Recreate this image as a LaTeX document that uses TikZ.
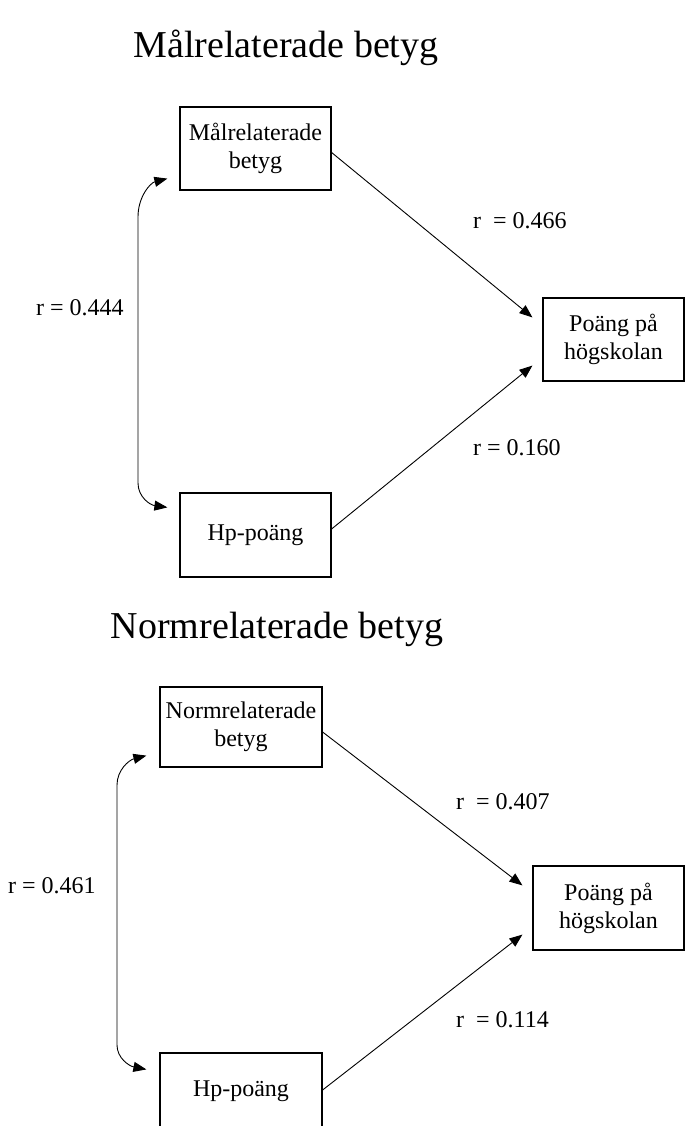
\documentclass[tikz,border=0pt]{standalone}
\usepackage{fontspec}
\setmainfont{Liberation Serif}
\usetikzlibrary{arrows.meta}
\begin{document}
\begin{tikzpicture}[x=1pt,y=-1pt,
  box/.style={draw=black,line width=1.2pt,inner sep=0pt,align=center,
    font=\fontsize{24}{28}\selectfont},
  lab/.style={inner sep=0pt,anchor=base west,font=\fontsize{24}{28}\selectfont},
  ttl/.style={inner sep=0pt,anchor=base,font=\fontsize{38}{44}\selectfont},
  arr/.style={line width=0.9pt,-{Triangle[length=13pt,width=10pt]}},
  dbl/.style={line width=0.9pt,{Triangle[length=13pt,width=10pt]}-{Triangle[length=13pt,width=10pt]}}]
\useasboundingbox (0,0) rectangle (685,1126);
\fill[white] (0,0) rectangle (685,1126);
% ---------- top ----------
\node[ttl] (t1) at (286,58) {Målrelaterade betyg};
\node[box,minimum width=151pt,minimum height=83pt] (b1) at (255.5,148.5) {Målrelaterade\\betyg};
\node[box,minimum width=151pt,minimum height=84pt] (h1) at (255.5,535) {Hp-poäng};
\node[box,minimum width=141pt,minimum height=83pt] (p1) at (613.5,339.5) {Poäng på\\högskolan};
\coordinate (a1) at ([shift={(-10,20)}]p1.north west);
\coordinate (a2) at ([shift={(-10,-16)}]p1.south west);
\draw[arr] ([shift={(0,4)}]b1.east) -- (a1);
\draw[arr] ([shift={(0,-6)}]h1.east) -- (a2);
\coordinate (c1) at ([shift={(-12,-12)}]b1.south west);
\coordinate (c2) at ([shift={(-12,15)}]h1.north west);
\draw[dbl] (c1) .. controls (150,183) and (138,197) .. (138,217) -- (138,483)
  .. controls (138,497) and (150,505) .. (c2);
\node[lab] (l1) at (36,315) {r = 0.444};
\node[lab] (l2) at (473,228) {r \ = 0.466};
\node[lab] (l3) at (473,455) {r = 0.160};
% ---------- bottom ----------
\node[ttl] (t2) at (277,638) {Normrelaterade betyg};
\node[box,minimum width=162pt,minimum height=80pt] (b2) at (241,727) {Normrelaterade\\betyg};
\node[box,minimum width=162pt,minimum height=76pt] (h2) at (241,1091) {Hp-poäng};
\node[box,minimum width=151pt,minimum height=84pt] (p2) at (608.5,908) {Poäng på\\högskolan};
\coordinate (a3) at ([shift={(-10,20)}]p2.north west);
\coordinate (a4) at ([shift={(-10,-16)}]p2.south west);
\draw[arr] ([shift={(0,5)}]b2.east) -- (a3);
\draw[arr] ([shift={(0,-1)}]h2.east) -- (a4);
\coordinate (c3) at ([shift={(-13,-12)}]b2.south west);
\coordinate (c4) at ([shift={(-13,17)}]h2.north west);
\draw[dbl] (c3) .. controls (129,760) and (117,770) .. (117,785) -- (117,1045)
  .. controls (117,1058) and (129,1066) .. (c4);
\node[lab] (l4) at (8,893) {r = 0.461};
\node[lab] (l5) at (456,809) {r \ = 0.407};
\node[lab] (l6) at (456,1027) {r \ = 0.114};
\end{tikzpicture}
\end{document}
